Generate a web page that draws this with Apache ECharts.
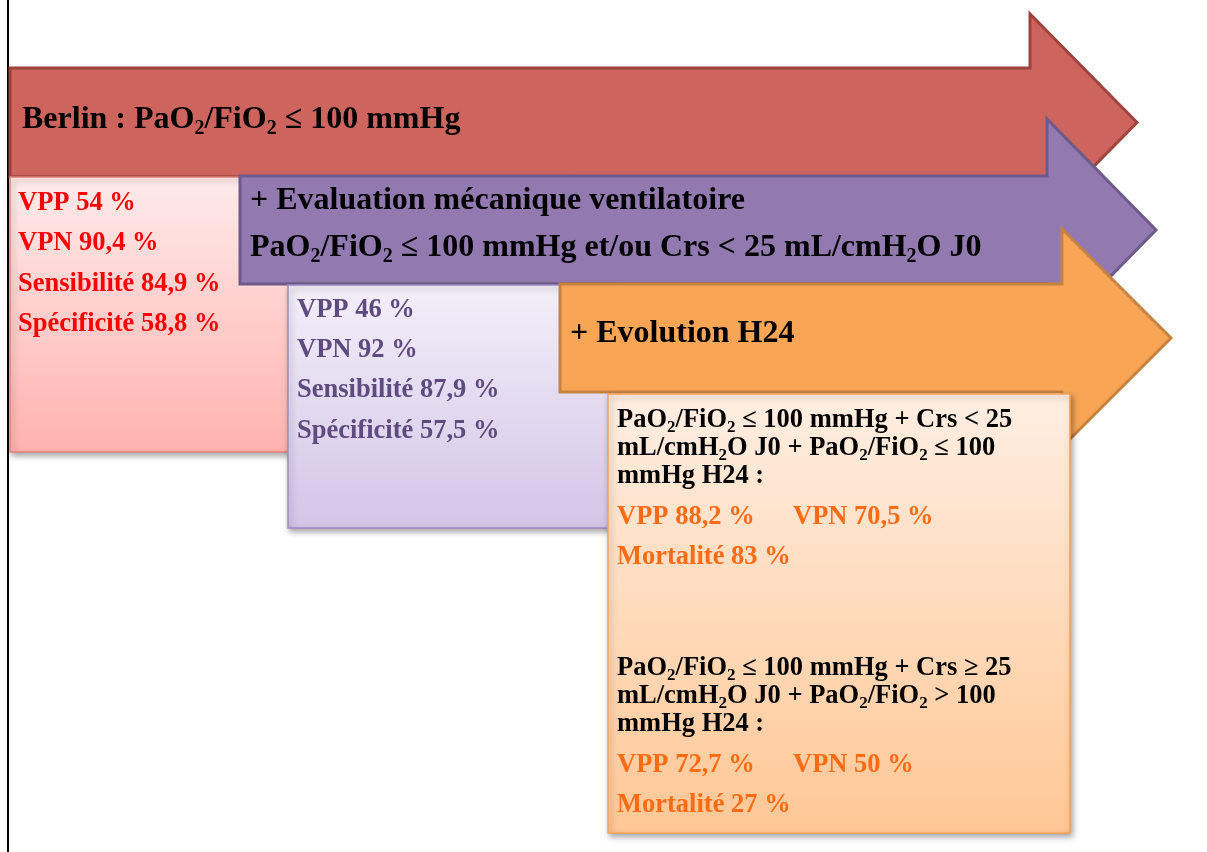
<!DOCTYPE html>
<html>
<head>
<meta charset="utf-8">
<script src="https://cdn.jsdelivr.net/npm/echarts@6/dist/echarts.min.js"></script>
<style>
  html, body { margin: 0; padding: 0; background: #fff; }
  #chart { width: 1207px; height: 852px; }
</style>
</head>
<body>
<div id="chart"></div>
<script>
// textes du schéma ("_2" = indice)
const stageTitles = [
  ['Berlin : PaO_2/FiO_2 ≤ 100 mmHg'],
  ['+ Evaluation mécanique ventilatoire', 'PaO_2/FiO_2 ≤ 100 mmHg et/ou Crs < 25 mL/cmH_2O J0'],
  ['+ Evolution H24']
]
const berlinStats = ['VPP 54 %', 'VPN 90,4 %', 'Sensibilité 84,9 %', 'Spécificité 58,8 %']
const mecaStats = ['VPP 46 %', 'VPN 92 %', 'Sensibilité 87,9 %', 'Spécificité 57,5 %']
const h24Conditions = [
  ['PaO_2/FiO_2 ≤ 100 mmHg + Crs < 25', 'mL/cmH_2O J0 + PaO_2/FiO_2 ≤ 100', 'mmHg H24 :'],
  ['PaO_2/FiO_2 ≤ 100 mmHg + Crs ≥ 25', 'mL/cmH_2O J0 + PaO_2/FiO_2 > 100', 'mmHg H24 :']
]
const h24Vpp = ['VPP 88,2 %', 'VPP 72,7 %']
const h24Vpn = ['VPN 70,5 %', 'VPN 50 %']
const h24Mortality = ['Mortalité 83 %', 'Mortalité 27 %']

const FONT = '"Liberation Serif", "Times New Roman", serif'
const TITLE = 32
const SMALL = 26.5

// flèche : x0 gauche, haut/bas du corps, base = début de la pointe, spread = débord, tip = pointe
function arrow(x0, top, bottom, base, spread, tip, fill, stroke, z) {
  const mid = (top + bottom) / 2
  return {
    type: 'polygon', z: z,
    shape: {points: [[x0, top], [base, top], [base, top - spread], [tip, mid],
      [base, bottom + spread], [base, bottom], [x0, bottom]]},
    style: {fill: fill, stroke: stroke, lineWidth: 3, lineJoin: 'miter'}
  }
}

function box(x, y, w, h, c1, c2, stroke, z) {
  return {
    type: 'rect', z: z,
    shape: {x: x, y: y, width: w, height: h},
    style: {
      fill: new echarts.graphic.LinearGradient(0, 0, 0, 1, [
        {offset: 0, color: c1}, {offset: 1, color: c2}
      ]),
      stroke: stroke, lineWidth: 1.5,
      shadowBlur: 6, shadowOffsetX: 2, shadowOffsetY: 3, shadowColor: 'rgba(0,0,0,0.35)'
    }
  }
}

function label(str, x, y, size, color, z) {
  const lh = Math.round(size * 1.2)
  const sub = Math.round(size * 0.64)
  return {
    type: 'text', z: z, x: x, y: y + 3,
    style: {
      text: str.replace(/_2/g, '{s|2}'),
      fill: color, fontSize: size, fontFamily: FONT, fontWeight: 'bold',
      lineHeight: lh, verticalAlign: 'middle', align: 'left',
      rich: {
        s: {fill: color, fontSize: sub, fontFamily: FONT, fontWeight: 'bold',
          lineHeight: sub, verticalAlign: 'bottom'}
      }
    }
  }
}

const els = []
// trait vertical à gauche
els.push({type: 'line', z: 1, shape: {x1: 8, y1: 0, x2: 8, y2: 852},
  style: {stroke: '#000', lineWidth: 2}})

// 1) Berlin
els.push(arrow(10, 68, 177, 1030, 54, 1137, '#CD655E', '#9E443F', 2))
els.push(label(stageTitles[0][0], 22, 117, TITLE, '#000', 3))
els.push(box(10, 177, 560, 275, '#FFEBEA', '#FFB2AF', '#E3807B', 4))
berlinStats.forEach((t, i) => els.push(label(t, 18, 200 + i * 40.5, SMALL, '#FF0000', 5)))

// 2) mécanique ventilatoire
els.push(arrow(240, 176, 284, 1047, 57, 1156, '#9279B0', '#6D5A8B', 6))
stageTitles[1].forEach((t, i) => els.push(label(t, 250, 198 + i * 47, TITLE, '#000', 7)))
els.push(box(288, 285, 330, 243, '#F3EFF9', '#D3C5E7', '#9F8BC2', 8))
mecaStats.forEach((t, i) => els.push(label(t, 297, 307 + i * 40.3, SMALL, '#5F4B7F', 9)))

// 3) évolution H24
els.push(arrow(560, 284, 392, 1062, 55, 1171, '#F8A656', '#C8823F', 10))
els.push(label(stageTitles[2][0], 570, 331, TITLE, '#000', 11))
els.push(box(608, 394, 462, 439, '#FFEEE2', '#FFC795', '#F6A358', 12))
const groupTop = [417, 665]
h24Conditions.forEach((lines, g) => {
  const y0 = groupTop[g]
  lines.forEach((t, i) => els.push(label(t, 617, y0 + i * 28, SMALL, '#000', 13)))
  els.push(label(h24Vpp[g], 617, y0 + 97, SMALL, '#FF6A14', 13))
  els.push(label(h24Vpn[g], 793, y0 + 97, SMALL, '#FF6A14', 13))
  els.push(label(h24Mortality[g], 617, y0 + 137, SMALL, '#FF6A14', 13))
})

const chart = echarts.init(document.getElementById('chart'))
chart.setOption({
  backgroundColor: '#fff',
  animation: false,
  graphic: {elements: els}
})
</script>
</body>
</html>
